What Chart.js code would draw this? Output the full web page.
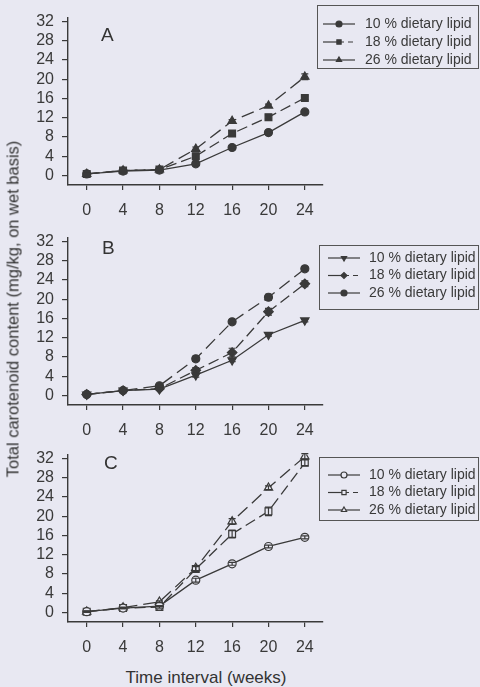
<!DOCTYPE html>
<html>
<head>
<meta charset="utf-8">
<script src="https://cdn.jsdelivr.net/npm/chart.js@4"></script>
<style>
  html, body { margin:0; padding:0; background:#e8e8f2; }
  body { width:480px; height:687px; position:relative; overflow:hidden; font-family:"Liberation Sans", Arial, sans-serif; color:#333; }
  canvas { position:absolute; left:0; }
  .letter { position:absolute; font-size:19px; color:#333; }
  #ytitle { position:absolute; left:13px; top:309px; transform:translate(-50%,-50%) rotate(-90deg); white-space:nowrap; font-size:16.5px; }
  #xtitle { position:absolute; left:206px; top:678px; transform:translate(-50%,-50%); white-space:nowrap; font-size:17px; }
</style>
</head>
<body>
<canvas id="cA" width="480" height="220" style="top:0px"></canvas>
<canvas id="cB" width="480" height="220" style="top:220px"></canvas>
<canvas id="cC" width="480" height="220" style="top:437px"></canvas>
<div class="letter" style="left:101px;top:24px">A</div>
<div class="letter" style="left:102px;top:237px">B</div>
<div class="letter" style="left:104px;top:452px">C</div>
<div id="ytitle">Total carotenoid content (mg/kg, on wet basis)</div>
<div id="xtitle">Time interval (weeks)</div>
<script>
// ---- data ----
const weeks = [0, 4, 8, 12, 16, 20, 24];
const yTickValues = [0, 4, 8, 12, 16, 20, 24, 28, 32];
const seriesLabels = ["10 % dietary lipid", "18 % dietary lipid", "26 % dietary lipid"];

const a10 = [0.3, 0.9, 1.1, 2.4, 5.8, 8.9, 13.2];
const a18 = [0.3, 1.0, 1.2, 4.0, 8.7, 12.1, 16.1];
const a26 = [0.3, 1.0, 1.2, 5.5, 11.3, 14.5, 20.5];
const a10Err = [0.1, 0.1, 0.1, 0.4, 0.3, 0.3, 0.4];
const a18Err = [0.1, 0.1, 0.1, 0.6, 0.6, 0.4, 0.4];
const a26Err = [0.1, 0.1, 0.1, 0.4, 0.3, 0.3, 0.6];

const b10 = [0.2, 1.0, 1.3, 4.2, 7.3, 12.6, 15.6];
const b18 = [0.2, 1.0, 1.4, 5.2, 8.9, 17.4, 23.2];
const b26 = [0.2, 1.0, 2.0, 7.6, 15.3, 20.4, 26.3];
const b10Err = [0.1, 0.1, 0.1, 0.4, 0.3, 0.3, 0.3];
const b18Err = [0.1, 0.1, 0.1, 0.6, 0.9, 0.7, 0.6];
const b26Err = [0.1, 0.1, 0.2, 0.5, 0.3, 0.6, 0.4];

const c10 = [0.15, 0.9, 1.3, 6.7, 10.1, 13.7, 15.6];
const c18 = [0.15, 0.9, 1.1, 9.0, 16.3, 21.0, 31.1];
const c26 = [0.15, 1.0, 2.2, 9.2, 18.9, 25.9, 32.4];
const c10Err = [0.1, 0.1, 0.1, 0.4, 0.3, 0.3, 0.3];
const c18Err = [0.1, 0.1, 0.2, 0.5, 0.8, 0.9, 0.6];
const c26Err = [0.1, 0.1, 0.2, 0.5, 0.6, 0.4, 0.6];

// ---- styling ----
const BG = '#e8e8f2';
const INK = '#3a3a3a';
const FONT = '"Liberation Sans", Arial, sans-serif';
const dashes = [[], [11, 5], [13, 6]];

const errorBars = {
  id: 'errorBars',
  afterDatasetsDraw(chart) {
    const ctx = chart.ctx;
    const ys = chart.scales.y;
    ctx.save();
    ctx.strokeStyle = INK;
    ctx.lineWidth = 1.2;
    chart.data.datasets.forEach((ds, i) => {
      const meta = chart.getDatasetMeta(i);
      meta.data.forEach((pt, j) => {
        const e = ds.errors[j];
        const v = ds.data[j].y;
        const y1 = ys.getPixelForValue(v - e), y2 = ys.getPixelForValue(v + e);
        ctx.beginPath();
        ctx.moveTo(pt.x, y1); ctx.lineTo(pt.x, y2);
        ctx.moveTo(pt.x - 3.5, y1); ctx.lineTo(pt.x + 3.5, y1);
        ctx.moveTo(pt.x - 3.5, y2); ctx.lineTo(pt.x + 3.5, y2);
        ctx.stroke();
      });
    });
    ctx.restore();
  }
};

const boxLegend = {
  id: 'boxLegend',
  afterDraw(chart, args, opts) {
    const ctx = chart.ctx;
    ctx.save();
    ctx.strokeStyle = '#555';
    ctx.lineWidth = 1;
    ctx.strokeRect(opts.x + 0.5, opts.y + 0.5, opts.w, opts.h);
    ctx.font = '14px ' + FONT;
    ctx.fillStyle = INK;
    ctx.textBaseline = 'middle';
    chart.data.datasets.forEach((ds, i) => {
      const ry = opts.y + opts.row0 + i * opts.rowGap;
      const lx0 = opts.x + opts.lineX0, lx1 = lx0 + 32, mx = lx0 + 16;
      ctx.strokeStyle = INK;
      ctx.lineWidth = 1.2;
      ctx.setLineDash([]);
      ctx.beginPath(); ctx.moveTo(lx0, ry); ctx.lineTo(mx, ry); ctx.stroke();
      ctx.setLineDash(i === 1 ? [5, 4] : []);
      ctx.beginPath(); ctx.moveTo(mx, ry); ctx.lineTo(lx1, ry); ctx.stroke();
      ctx.setLineDash([]);
      ctx.fillStyle = ds.pointBackgroundColor;
      ctx.strokeStyle = INK;
      Chart.helpers.drawPoint(ctx, {pointStyle: ds.pointStyle, rotation: ds.pointRotation || 0, radius: 3, borderWidth: 1}, mx, ry);
      ctx.fillStyle = INK;
      ctx.fillText(ds.label, opts.x + opts.textX, ry);
    });
    ctx.restore();
  }
};

function pts(arr) { return weeks.map((w, i) => ({x: w, y: arr[i]})); }

function makeDatasets(values, errs, styles, rotations, open) {
  return values.map((v, i) => ({
    label: seriesLabels[i],
    data: pts(v),
    errors: errs[i],
    borderColor: INK,
    borderWidth: 1.3,
    borderDash: dashes[i],
    pointStyle: styles[i],
    pointRotation: rotations[i],
    pointRadius: styles[i] === 'circle' ? 4 : 4.8,
    pointBorderWidth: 1.2,
    pointBorderColor: INK,
    pointBackgroundColor: open ? BG : INK,
    fill: false,
    tension: 0
  }));
}

function makeChart(id, datasets, legendPos) {
  return new Chart(document.getElementById(id), {
    type: 'line',
    data: { datasets },
    options: {
      responsive: false,
      animation: false,
      devicePixelRatio: 1,
      layout: { padding: { top: 13, right: 157, bottom: 5, left: 0 } },
      plugins: { legend: { display: false }, tooltip: { enabled: false }, boxLegend: legendPos },
      scales: {
        x: {
          type: 'linear', min: -2.06, max: 26,
          afterBuildTicks: s => { s.ticks = weeks.map(v => ({value: v})); },
          afterFit: s => { s.height = 30; },
          ticks: { color: INK, font: { size: 16, family: FONT }, padding: 11, maxRotation: 0, autoSkip: false },
          grid: { drawOnChartArea: false, tickLength: 5, color: INK, lineWidth: 1.2 },
          border: { color: INK, width: 1.4 }
        },
        y: {
          type: 'linear', min: -2, max: 32.8,
          afterBuildTicks: s => { s.ticks = yTickValues.map(v => ({value: v})); },
          afterFit: s => { s.width = 68; },
          ticks: { color: INK, font: { size: 16, family: FONT }, padding: 8, autoSkip: false },
          grid: { drawOnChartArea: false, tickLength: 6, color: INK, lineWidth: 1.2 },
          border: { color: INK, width: 1.4 }
        }
      }
    },
    plugins: [errorBars, boxLegend]
  });
}

makeChart('cA',
  makeDatasets([a10, a18, a26], [a10Err, a18Err, a26Err], ['circle', 'rect', 'triangle'], [0, 0, 0], false),
  { x: 317, y: 5, w: 161, h: 63, row0: 19, rowGap: 18, lineX0: 6, textX: 48 });
makeChart('cB',
  makeDatasets([b10, b18, b26], [b10Err, b18Err, b26Err], ['triangle', 'rectRot', 'circle'], [180, 0, 0], false),
  { x: 319, y: 25, w: 159, h: 64, row0: 13, rowGap: 17.5, lineX0: 9, textX: 50 });
makeChart('cC',
  makeDatasets([c10, c18, c26], [c10Err, c18Err, c26Err], ['circle', 'rect', 'triangle'], [0, 0, 0], true),
  { x: 319, y: 20, w: 159, h: 63, row0: 18, rowGap: 17.5, lineX0: 9, textX: 50 });
</script>
</body>
</html>
